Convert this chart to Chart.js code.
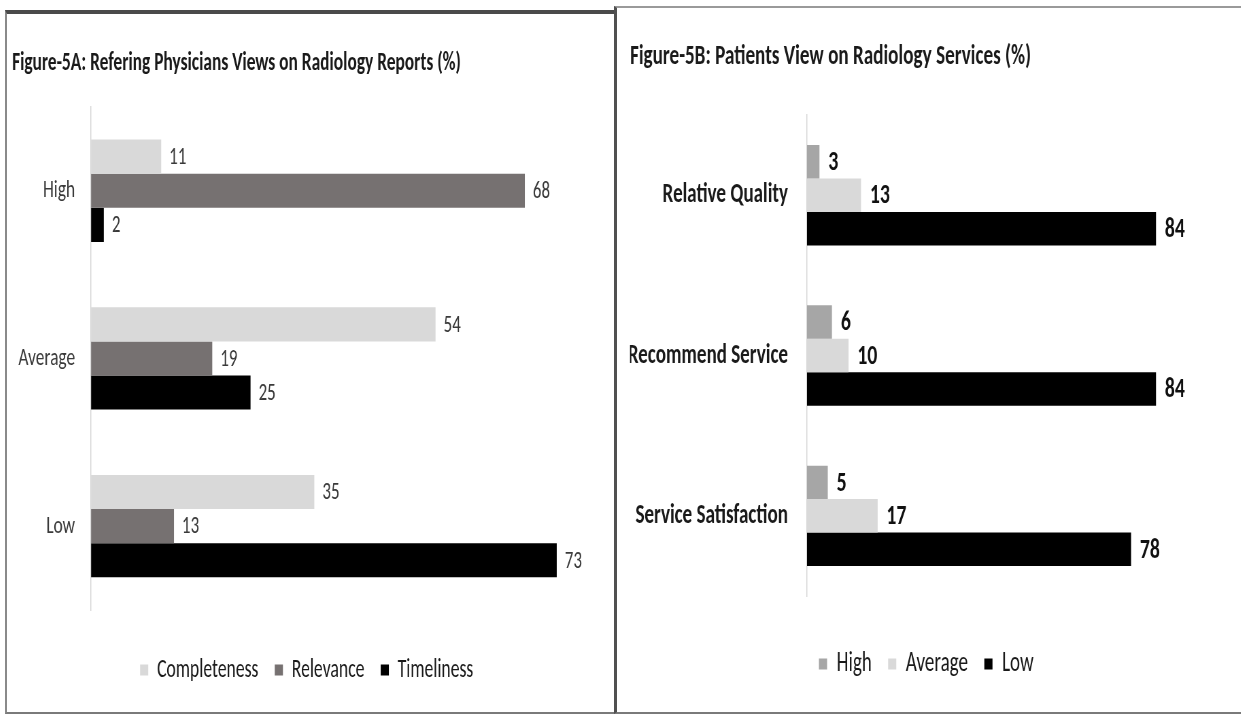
<!DOCTYPE html>
<html>
<head>
<meta charset="utf-8">
<script src="https://cdn.jsdelivr.net/npm/chart.js@4/dist/chart.umd.min.js"></script>
<style>
  html, body { margin: 0; padding: 0; background: #ffffff; }
  body { width: 1241px; height: 715px; position: relative; overflow: hidden; }
  .panel { position: absolute; box-sizing: border-box; }
  #panelA { left: 5px; top: 10px; width: 612px; height: 704px;
            border-top: 4px solid #4a4a4a; border-left: 2px solid #8a8a8a; border-bottom: 2px solid #7a7a7a; }
  #panelB { left: 614px; top: 6px; width: 640px; height: 708px;
            border-top: 2px solid #9a9a9a; border-left: 3px solid #505050; border-bottom: 2px solid #7a7a7a; }
  /* the figures use a narrow, tall lettering: each canvas is drawn wide and squeezed horizontally */
  canvas { position: absolute; transform-origin: 0 0; transform: scaleX(0.68); }
  #chartA { left: 8px; top: 14px; }
  #chartB { left: 620px; top: 10px; }
</style>
</head>
<body>
<div class="panel" id="panelA"></div>
<div class="panel" id="panelB"></div>
<canvas id="chartA" width="888" height="696"></canvas>
<canvas id="chartB" width="909" height="700"></canvas>
<script>
// Figure 5A: referring physicians' ratings (%)
const ratingLevels = ['High', 'Average', 'Low'];
const completeness = [11, 54, 35];
const relevance = [68, 19, 13];
const timeliness = [2, 25, 73];

// Figure 5B: patients' ratings (%)
const serviceAspects = ['Relative Quality', 'Recommend Service', 'Service Satisfaction'];
const highShare = [3, 6, 5];
const averageShare = [13, 10, 17];
const lowShare = [84, 84, 78];

const FONT = "Carlito, 'Roboto Condensed', sans-serif";

// Writes each bar's value just past its end
const valueLabels = {
  id: 'valueLabels',
  afterDatasetsDraw(chart, args, opts) {
    const ctx = chart.ctx;
    ctx.save();
    ctx.font = `${opts.weight || 'normal'} ${opts.size}px ${FONT}`;
    ctx.fillStyle = opts.color;
    ctx.textAlign = 'left';
    ctx.textBaseline = 'middle';
    chart.data.datasets.forEach((ds, i) => {
      const meta = chart.getDatasetMeta(i);
      if (meta.hidden) return;
      meta.data.forEach((bar, j) => {
        ctx.fillText(String(ds.data[j]), bar.x + opts.offset, bar.y + 1);
      });
    });
    ctx.restore();
  }
};

function makeOptions(cfg) {
  return {
    indexAxis: 'y',
    responsive: false,
    animation: false,
    layout: { padding: cfg.padding },
    datasets: { bar: { categoryPercentage: cfg.catPct, barPercentage: 1, borderWidth: 0 } },
    scales: {
      x: {
        min: 0, max: cfg.max,
        ticks: { display: false },
        grid: { display: false, drawTicks: false },
        border: { display: false },
        afterFit(scale) { scale.height = cfg.xAxisHeight; }
      },
      y: {
        grid: { display: false, drawTicks: false },
        border: { display: true, color: '#d9d9d9', width: 1.5 },
        ticks: {
          color: cfg.tickColor,
          padding: cfg.tickPad,
          font: { family: FONT, size: cfg.tickSize, weight: cfg.tickWeight }
        },
        afterFit(scale) { scale.width = cfg.yAxisWidth; }
      }
    },
    plugins: {
      title: {
        display: true,
        text: cfg.title,
        align: 'start',
        color: '#1a1a1a',
        font: { family: FONT, size: cfg.titleSize, weight: 'bold' },
        padding: cfg.titlePad
      },
      legend: {
        position: 'bottom',
        labels: {
          boxWidth: 12, boxHeight: 11, padding: cfg.legendPad,
          color: '#1a1a1a',
          font: { family: FONT, size: cfg.legendSize, weight: cfg.legendWeight }
        }
      },
      tooltip: { enabled: false },
      valueLabels: cfg.labels
    }
  };
}

new Chart(document.getElementById('chartA'), {
  type: 'bar',
  data: {
    labels: ratingLevels,
    datasets: [
      { label: 'Completeness', data: completeness, backgroundColor: '#d9d9d9' },
      { label: 'Relevance', data: relevance, backgroundColor: '#767171' },
      { label: 'Timeliness', data: timeliness, backgroundColor: '#000000' }
    ]
  },
  options: makeOptions({
    padding: { left: 5.9, right: 15.4, top: 0, bottom: 17 },
    catPct: 0.61, max: 80,
    xAxisHeight: 23, yAxisWidth: 116.2, tickPad: 23.5,
    tickSize: 25.5, tickColor: '#3a3a3a', tickWeight: 'normal',
    title: 'Figure-5A: Refering Physicians Views on Radiology Reports (%)',
    titleSize: 25.6, titlePad: { top: 34.6, bottom: 27.6 },
    legendSize: 26, legendPad: 24, legendWeight: 'normal',
    labels: { color: '#3a3a3a', size: 25, offset: 11.8, weight: 'normal' }
  }),
  plugins: [valueLabels]
});

new Chart(document.getElementById('chartB'), {
  type: 'bar',
  data: {
    labels: serviceAspects,
    datasets: [
      { label: 'High', data: highShare, backgroundColor: '#a6a6a6' },
      { label: 'Average', data: averageShare, backgroundColor: '#d9d9d9' },
      { label: 'Low', data: lowShare, backgroundColor: '#000000' }
    ]
  },
  options: makeOptions({
    padding: { left: 14.7, right: 23, top: 0, bottom: 22 },
    catPct: 0.626, max: 100,
    xAxisHeight: 30, yAxisWidth: 260.3, tickPad: 28,
    tickSize: 28, tickColor: '#1a1a1a', tickWeight: 'bold',
    title: 'Figure-5B: Patients View on Radiology Services (%)',
    titleSize: 28.2, titlePad: { top: 30.1, bottom: 41.1 },
    legendSize: 28, legendPad: 24, legendWeight: 'normal',
    labels: { color: '#111111', size: 29, offset: 13, weight: 'bold' }
  }),
  plugins: [valueLabels]
});
</script>
</body>
</html>
